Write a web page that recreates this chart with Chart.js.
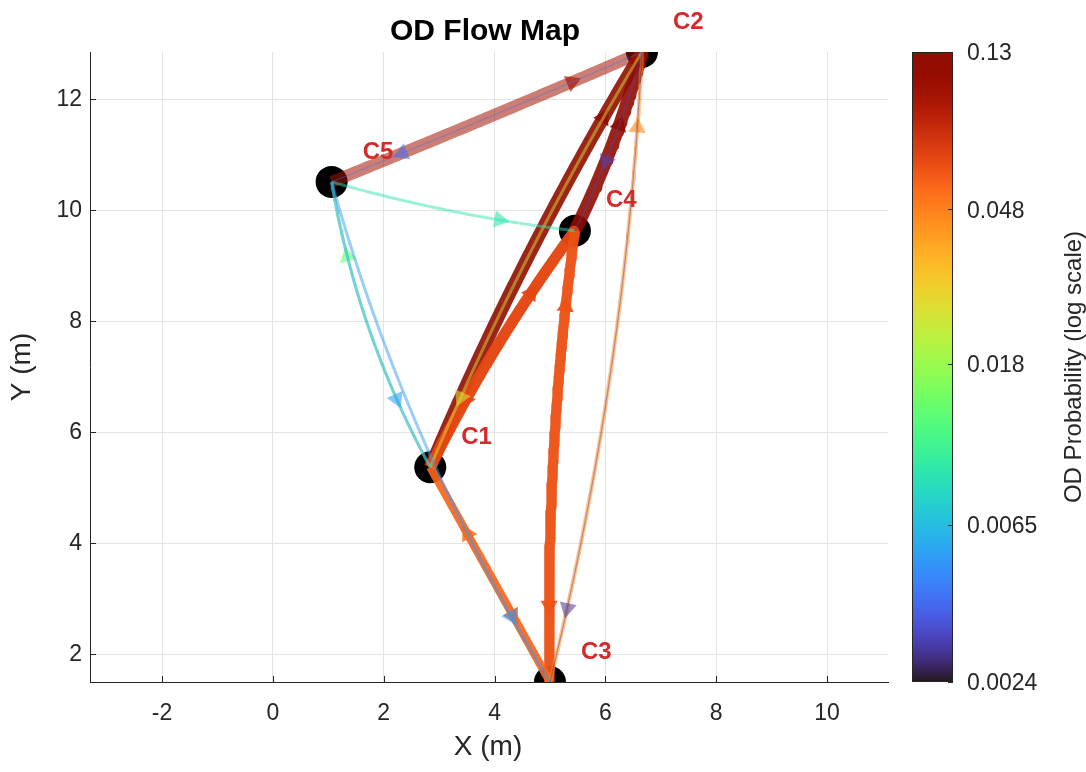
<!DOCTYPE html>
<html>
<head>
<meta charset="utf-8">
<title>OD Flow Map</title>
<script src="https://cdn.jsdelivr.net/npm/chart.js@4.4.1/dist/chart.umd.min.js"></script>
<style>
  html, body { margin: 0; padding: 0; background: #ffffff; }
  #wrap { position: relative; width: 1086px; height: 772px; }
</style>
</head>
<body>
<div id="wrap"><canvas id="flowChart" width="1086" height="772"></canvas></div>
<script>
// ---- Stations (metres) ----
const nodeNames = ['C1', 'C2', 'C3', 'C4', 'C5'];
const nodeX = [2.84, 6.66, 5.00, 5.45, 1.06];
const nodeY = [5.37, 12.85, 1.50, 9.63, 10.51];

// ---- Directed OD flows ----
const flowFrom  = ['C1', 'C4', 'C5', 'C1', 'C4', 'C3', 'C4', 'C1', 'C3', 'C3', 'C2', 'C1', 'C5', 'C5', 'C5', 'C2', 'C2', 'C2'];
const flowTo    = ['C2', 'C2', 'C2', 'C4', 'C1', 'C4', 'C3', 'C3', 'C1', 'C2', 'C1', 'C5', 'C4', 'C1', 'C3', 'C5', 'C4', 'C3'];
const flowProb  = [0.13, 0.12, 0.10, 0.068, 0.066, 0.064, 0.062, 0.058, 0.055, 0.045, 0.026, 0.014, 0.009, 0.0055, 0.0052, 0.0040, 0.0032, 0.0029];
const flowTrips = [13, 13, 12, 11, 11, 10, 10, 8, 8, 4, 3, 3, 3, 3, 3, 1.2, 1.5, 1.2];

// ---- Axis ticks ----
const xTicks = [-2, 0, 2, 4, 6, 8, 10];
const yTicks = [2, 4, 6, 8, 10, 12];
const cbTicks = [0.0024, 0.0065, 0.018, 0.048, 0.13];
const cbLabels = ['0.0024', '0.0065', '0.018', '0.048', '0.13'];

// ---- Look ----
const FONT = "'Liberation Sans', Arial, Helvetica, sans-serif";
const AXIS_COLOR = '#262626';
const LABEL_RED = '#d42a2a';
const ARROW_BACK = 1.38;  // arrowhead distance before destination (data units)
const PX_PER_TRIP = 1.0;  // line width per trip unit
// curve offset at mid-chord (fraction of chord), to the left of lower->higher station
const curveBend = {
  'C1-C2': 0.018, 'C1-C3': 0.0, 'C1-C4': 0.022, 'C1-C5': 0.042, 'C2-C3': 0.024,
  'C2-C4': 0.025, 'C2-C5': 0.003, 'C3-C4': 0.02, 'C3-C5': 0.035, 'C4-C5': 0.02
};
const fadedFlows = { 'C5>C2': 0.55 };

const pMin = cbTicks[0], pMax = cbTicks[cbTicks.length - 1];

// Turbo colormap (polynomial approximation)
function turbo(x) {
  x = Math.min(1, Math.max(0, x));
  const r = 0.13572138 + x * (4.61539260 + x * (-42.66032258 + x * (132.13108234 + x * (-152.94239396 + x * 59.28637943))));
  const g = 0.09140261 + x * (2.19418839 + x * (4.84296658 + x * (-14.18503333 + x * (4.27729857 + x * 2.82956604))));
  const b = 0.10667330 + x * (12.64194608 + x * (-60.58204836 + x * (110.36276771 + x * (-89.90310912 + x * 27.34824973))));
  const c = v => Math.round(255 * Math.min(1, Math.max(0, v)));
  return [c(r), c(g), c(b)];
}
function logPos(p) {
  return (Math.log10(p) - Math.log10(pMin)) / (Math.log10(pMax) - Math.log10(pMin));
}
function rgba(rgb, a) { return `rgba(${rgb[0]},${rgb[1]},${rgb[2]},${a})`; }

// Build a curved flow: a quadratic curve shared by both directions of a pair
function buildFlow(k) {
  const i = nodeNames.indexOf(flowFrom[k]);
  const j = nodeNames.indexOf(flowTo[k]);
  const lo = Math.min(i, j), hi = Math.max(i, j);
  const bend = curveBend[nodeNames[lo] + '-' + nodeNames[hi]] || 0;
  const dx = nodeX[hi] - nodeX[lo], dy = nodeY[hi] - nodeY[lo];
  const L = Math.hypot(dx, dy);
  const cx = (nodeX[lo] + nodeX[hi]) / 2 - (dy / L) * 2 * bend * L;
  const cy = (nodeY[lo] + nodeY[hi]) / 2 + (dx / L) * 2 * bend * L;
  const x0 = nodeX[i], y0 = nodeY[i], x2 = nodeX[j], y2 = nodeY[j];
  const at = t => ({
    x: (1 - t) * (1 - t) * x0 + 2 * (1 - t) * t * cx + t * t * x2,
    y: (1 - t) * (1 - t) * y0 + 2 * (1 - t) * t * cy + t * t * y2
  });
  const tangent = t => ({
    x: 2 * (1 - t) * (cx - x0) + 2 * t * (x2 - cx),
    y: 2 * (1 - t) * (cy - y0) + 2 * t * (y2 - cy)
  });
  // locate arrowhead by arc length from the destination
  const M = 600;
  const cum = [0];
  let prev = at(0);
  for (let s = 1; s <= M; s++) {
    const p = at(s / M);
    cum.push(cum[s - 1] + Math.hypot(p.x - prev.x, p.y - prev.y));
    prev = p;
  }
  const target = Math.max(0, cum[M] - ARROW_BACK);
  let s = 0;
  while (s < M && cum[s] < target) s++;
  const tA = s / M;
  const pts = [];
  let arrowIndex;
  const N = 80;
  for (let n = 0; n <= N; n++) {
    const t = n / N;
    if (t >= tA && arrowIndex === undefined) {
      arrowIndex = pts.length;
      pts.push(at(tA));
      if (Math.abs(t - tA) < 1e-9) continue;
    }
    pts.push(at(t));
  }
  const tv = tangent(tA);
  const tl = Math.hypot(tv.x, tv.y);
  return { data: pts, arrowIndex, tan: { x: tv.x / tl * 0.01, y: tv.y / tl * 0.01 } };
}

const flowDatasets = flowFrom.map((f, k) => {
  const geo = buildFlow(k);
  const col = turbo(logPos(flowProb[k]));
  const key = flowFrom[k] + '>' + flowTo[k];
  const alpha = fadedFlows[key] !== undefined ? fadedFlows[key] : Math.min(0.9, 0.35 + 0.045 * flowTrips[k]);
  return {
    label: key,
    data: geo.data,
    arrowIndex: geo.arrowIndex,
    tan: geo.tan,
    showLine: true,
    tension: 0,
    borderColor: rgba(col, alpha),
    borderWidth: flowTrips[k] * PX_PER_TRIP,
    borderCapStyle: 'butt',
    borderJoinStyle: 'round',
    pointStyle: 'triangle',
    pointBackgroundColor: rgba(col, Math.min(0.9, Math.max(0.55, alpha + 0.1))),
    pointBorderWidth: 0,
    pointBorderColor: 'rgba(0,0,0,0)',
    pointRadius: ctx => (ctx.dataIndex === ctx.dataset.arrowIndex ? 10 : 0),
    pointHoverRadius: 0,
    rotation: ctx => {
      const ds = ctx.dataset;
      if (ctx.dataIndex !== ds.arrowIndex) return 0;
      const xs = ctx.chart.scales.x, ys = ctx.chart.scales.y;
      const p = ds.data[ds.arrowIndex];
      const px = xs.getPixelForValue(p.x + ds.tan.x) - xs.getPixelForValue(p.x);
      const py = ys.getPixelForValue(p.y + ds.tan.y) - ys.getPixelForValue(p.y);
      return Math.atan2(py, px) * 180 / Math.PI + 90;
    },
    order: 10 + flowProb[k] * 100
  };
});

const nodeDataset = {
  label: 'stations',
  data: nodeNames.map((n, i) => ({ x: nodeX[i], y: nodeY[i] })),
  showLine: false,
  pointRadius: 16,
  pointHoverRadius: 16,
  pointBackgroundColor: '#000000',
  pointBorderColor: '#000000',
  pointBorderWidth: 0,
  order: 1000
};

// inward tick marks on the axes
const innerTicks = {
  id: 'innerTicks',
  beforeDatasetsDraw(chart) {
    const { ctx, chartArea, scales } = chart;
    ctx.save();
    ctx.strokeStyle = AXIS_COLOR;
    ctx.lineWidth = 1;
    ctx.beginPath();
    xTicks.forEach(v => {
      const px = Math.round(scales.x.getPixelForValue(v)) + 0.5;
      ctx.moveTo(px, chartArea.bottom);
      ctx.lineTo(px, chartArea.bottom - 6);
    });
    yTicks.forEach(v => {
      const py = Math.round(scales.y.getPixelForValue(v)) + 0.5;
      ctx.moveTo(chartArea.left, py);
      ctx.lineTo(chartArea.left + 6, py);
    });
    ctx.stroke();
    ctx.restore();
  }
};

// station names, titles and the colour bar
const annotations = {
  id: 'annotations',
  afterDraw(chart) {
    const { ctx, chartArea, scales } = chart;
    ctx.save();
    // station labels
    ctx.fillStyle = LABEL_RED;
    ctx.font = `bold 24px ${FONT}`;
    ctx.textAlign = 'left';
    ctx.textBaseline = 'middle';
    nodeNames.forEach((n, i) => {
      const px = scales.x.getPixelForValue(nodeX[i] + 0.56);
      const py = scales.y.getPixelForValue(nodeY[i] + 0.54);
      ctx.fillText(n, px, py);
    });
    // title
    ctx.fillStyle = '#000000';
    ctx.font = `bold 30px ${FONT}`;
    ctx.textAlign = 'center';
    ctx.fillText('OD Flow Map', (chartArea.left + chartArea.right) / 2 - 4, 32);
    // axis titles
    ctx.fillStyle = AXIS_COLOR;
    ctx.font = `28px ${FONT}`;
    ctx.fillText('X (m)', (chartArea.left + chartArea.right) / 2 - 1, 747);
    ctx.save();
    ctx.translate(22, (chartArea.top + chartArea.bottom) / 2);
    ctx.rotate(-Math.PI / 2);
    ctx.fillText('Y (m)', 0, 0);
    ctx.restore();

    // colour bar
    const cb = scales.cb;
    const x0 = 912, x1 = 953;
    const top = cb.getPixelForValue(pMax), bot = cb.getPixelForValue(pMin);
    const grad = ctx.createLinearGradient(0, bot, 0, top);
    for (let s = 0; s <= 64; s++) {
      grad.addColorStop(s / 64, rgba(turbo(s / 64), 1));
    }
    ctx.fillStyle = grad;
    ctx.fillRect(x0, top, x1 - x0, bot - top);
    ctx.strokeStyle = AXIS_COLOR;
    ctx.lineWidth = 1;
    ctx.strokeRect(x0 + 0.5, top + 0.5, x1 - x0 - 1, bot - top - 1);
    ctx.beginPath();
    cbTicks.forEach(v => {
      const py = Math.round(cb.getPixelForValue(v)) + 0.5;
      ctx.moveTo(x1, py);
      ctx.lineTo(x1 - 5, py);
    });
    ctx.stroke();
    ctx.fillStyle = AXIS_COLOR;
    ctx.font = `23px ${FONT}`;
    ctx.textAlign = 'left';
    ctx.textBaseline = 'middle';
    cbTicks.forEach((v, i) => {
      ctx.fillText(cbLabels[i], 967, cb.getPixelForValue(v) + 2);
    });
    ctx.save();
    ctx.translate(1074, (top + bot) / 2);
    ctx.rotate(-Math.PI / 2);
    ctx.textAlign = 'center';
    ctx.font = `24px ${FONT}`;
    ctx.fillText('OD Probability (log scale)', 0, 0);
    ctx.restore();
    ctx.restore();
  }
};

new Chart(document.getElementById('flowChart'), {
  type: 'scatter',
  data: { datasets: [...flowDatasets, nodeDataset] },
  options: {
    responsive: false,
    animation: false,
    devicePixelRatio: 1,
    events: [],
    layout: { padding: { left: 0, top: 52, right: 198, bottom: 0 } },
    plugins: { legend: { display: false }, tooltip: { enabled: false }, title: { display: false } },
    scales: {
      x: {
        type: 'linear',
        min: -3.3,
        max: 11.1,
        afterFit: s => { s.height = 90; },
        afterBuildTicks: s => { s.ticks = xTicks.map(v => ({ value: v })); },
        grid: { color: '#e3e3e3', lineWidth: 1, drawTicks: false },
        border: { display: true, color: AXIS_COLOR, width: 1 },
        ticks: { font: { family: FONT, size: 23 }, color: AXIS_COLOR, padding: 18, maxRotation: 0 }
      },
      y: {
        type: 'linear',
        min: 1.5,
        max: 12.85,
        afterFit: s => { s.width = 90; },
        afterBuildTicks: s => { s.ticks = yTicks.map(v => ({ value: v })); },
        grid: { color: '#e3e3e3', lineWidth: 1, drawTicks: false },
        border: { display: true, color: AXIS_COLOR, width: 1 },
        ticks: { font: { family: FONT, size: 23 }, color: AXIS_COLOR, padding: 8 }
      },
      cb: {
        type: 'logarithmic',
        position: 'right',
        display: false,
        min: pMin,
        max: pMax
      }
    }
  },
  plugins: [innerTicks, annotations]
});
</script>
</body>
</html>
